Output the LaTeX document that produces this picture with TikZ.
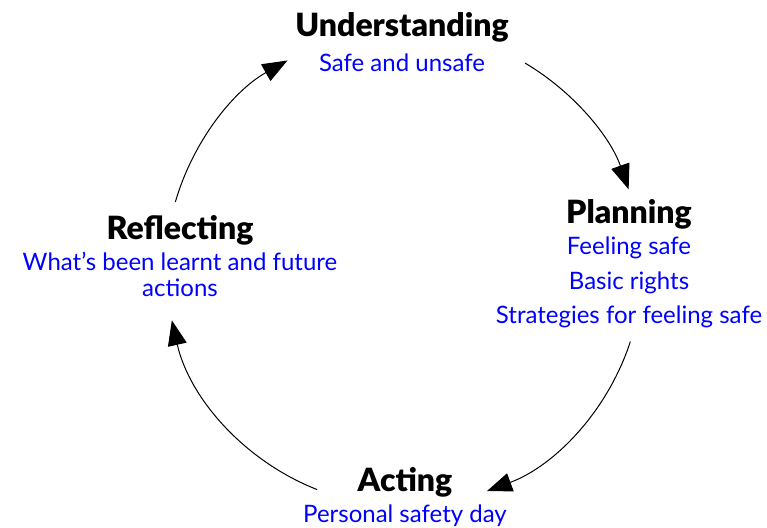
\documentclass[tikz,border=0pt]{standalone}
\usepackage{fontspec}
\setmainfont{Lato}[BoldFont={Lato Black}]
\usetikzlibrary{arrows.meta}
\definecolor{stepblue}{RGB}{0,0,255}
\begin{document}
\begin{tikzpicture}[x=1pt,y=1pt,
  stagetitle/.style={font=\fontsize{32}{38}\selectfont\bfseries, anchor=base, inner sep=0pt},
  stageitem/.style={font=\fontsize{24}{28}\selectfont, text=stepblue, anchor=base, inner sep=0pt},
  flow/.style={line width=1pt, -{Triangle[length=25pt,width=19pt]}}]
\useasboundingbox (0,0) rectangle (767,527);

% centre of the cycle
\coordinate (c) at (404,259);

% Understanding
\node[stagetitle] (und) at (402,490) {Understanding};
\node[stageitem] (undA) at (402,455) {Safe and unsafe};

% Planning
\node[stagetitle] (plan) at (629,303) {Planning};
\node[stageitem] (planA) at (629,272) {Feeling safe};
\node[stageitem] (planB) at (629,237) {Basic rights};
\node[stageitem] (planC) at (629,203) {Strategies for feeling safe};

% Acting
\node[stagetitle] (act) at (405,36) {Acting};
\node[stageitem] (actA) at (405,5) {Personal safety day};

% Reflecting
\node[stagetitle] (refl) at (180,287) {Reflecting};
\node[stageitem] (reflA) at (180,256) {What’s been learnt and future};
\node[stageitem] (reflB) at (180,230) {actions};

% arc end points on the circle
\coordinate (u2p) at ([shift={(59.4:238)}]c);
\coordinate (p2a) at ([shift={(-18:238)}]c);
\coordinate (a2r) at ([shift={(248.6:238)}]c);
\coordinate (r2u) at ([shift={(163.9:238)}]c);

\draw[flow] (u2p) arc[start angle=59.4, end angle=19.3, radius=238];
\draw[flow] (p2a) arc[start angle=-18, end angle=-69.6, radius=238];
\draw[flow] (a2r) arc[start angle=248.6, end angle=192.7, radius=238];
\draw[flow] (r2u) arc[start angle=163.9, end angle=119.3, radius=238];
\end{tikzpicture}
\end{document}
